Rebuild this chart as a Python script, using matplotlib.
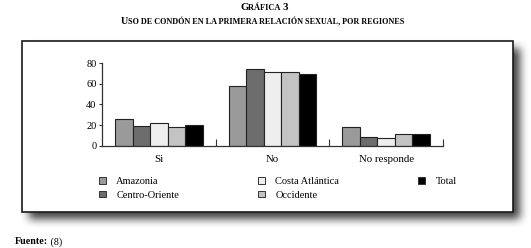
import matplotlib
matplotlib.use("Agg")
import matplotlib.pyplot as plt
from matplotlib.patches import Rectangle, Patch
import numpy as np

W, H = 531, 248

categories = ["Si", "No", "No responde"]
regions = ["Amazonia", "Centro-Oriente", "Costa Atlántica", "Occidente", "Total"]
amazonia = [26, 58, 18]
centro_oriente = [19, 74, 8]
costa_atlantica = [22, 72, 7]
occidente = [18, 72, 11]
total = [20, 70, 11]
series = [amazonia, centro_oriente, costa_atlantica, occidente, total]
colors = ["#9a9a9a", "#6d6d6d", "#eeeeee", "#c3c3c3", "#000000"]
yticks = [0, 20, 40, 60, 80]

FONT = "Liberation Serif"
plt.rcParams["font.family"] = FONT


def fx(px):
    return px / W


def fy(py):
    return 1 - py / H


fig = plt.figure(figsize=(W / 100, H / 100), dpi=100, facecolor="white")
renderer = fig.canvas.get_renderer()

# blurred drop shadow behind the frame
box = (22, 41, 513, 212)
off = 8
mask = np.zeros((H, W))
mask[box[1] + off:box[3] + off, box[0] + off:box[2] + off] = 1.0
k = 5
for _ in range(2):
    c = np.cumsum(np.pad(mask, ((0, 0), (k, k)), mode="edge"), axis=1)
    mask = (c[:, 2 * k:] - c[:, :-2 * k])[:, :W] / (2 * k)
    c = np.cumsum(np.pad(mask, ((k, k), (0, 0)), mode="edge"), axis=0)
    mask = (c[2 * k:, :] - c[:-2 * k, :])[:H, :] / (2 * k)
rgba = np.zeros((H, W, 4))
rgba[..., :3] = 0.25
rgba[..., 3] = np.clip(mask, 0, 1)
fig.figimage(rgba, xo=0, yo=0, origin="upper", zorder=-3)

fig.patches.append(Rectangle((fx(box[0]), fy(box[3])), fx(box[2] - box[0]), (box[3] - box[1]) / H,
                             transform=fig.transFigure, facecolor="white", edgecolor="#1a1a1a",
                             linewidth=1.2, zorder=-2))

# chart
ax = fig.add_axes([fx(102), fy(145.6), fx(443 - 102), (145.6 - 63.3) / H])
ax.patch.set_alpha(0)
x = np.arange(len(categories))
bw = 0.154
for i, (vals, col, name) in enumerate(zip(series, colors, regions)):
    ax.bar(x + (i - 2) * bw, vals, width=bw, color=col, edgecolor="#222222", linewidth=0.8, label=name)

ax.set_xlim(-0.5, 2.5)
ax.set_ylim(0, 80)
ax.set_yticks(yticks)
ax.set_xticks(x, labels=categories)
ax.set_xticks([0.5, 1.5, 2.5], minor=True)
for s in ("top", "right"):
    ax.spines[s].set_visible(False)
for s in ("left", "bottom"):
    ax.spines[s].set_color("#333333")
    ax.spines[s].set_linewidth(0.9)
ax.tick_params(axis="y", direction="out", length=2.5, width=0.8, pad=1.5, labelsize=7.5, color="#333333")
ax.tick_params(axis="x", which="major", length=0, pad=7, labelsize=7.8)
ax.tick_params(axis="x", which="minor", direction="in", length=5, width=0.8, color="#333333")

handles = [Patch(facecolor=c, edgecolor="#333333", linewidth=0.7) for c in colors]
fig.legend(handles, regions, loc="upper left", bbox_to_anchor=(fx(99), fy(177)), ncol=3,
           frameon=False, fontsize=7.5, borderpad=0, handlelength=0.65, handleheight=0.6,
           handletextpad=1.0, columnspacing=7.6, labelspacing=0.45, borderaxespad=0)


def advance(txt, size, weight):
    # width including trailing spaces: measure against a bar sentinel
    t = fig.text(0, 0, txt + "|", fontsize=size, fontweight=weight)
    s = fig.text(0, 0, "|", fontsize=size, fontweight=weight)
    w = t.get_window_extent(renderer).width - s.get_window_extent(renderer).width
    t.remove()
    s.remove()
    return w


def run_text(x0, y0, pieces, center=False):
    """pieces: list of (text, size, weight); drawn side by side on one baseline."""
    arts = []
    xpos = x0
    for txt, size, weight in pieces:
        t = fig.text(fx(xpos), fy(y0), txt, fontsize=size, fontweight=weight, ha="left", va="baseline")
        arts.append((t, xpos))
        xpos += advance(txt, size, weight)
    if center:
        shift = (xpos - x0) / 2
        for t, xp in arts:
            t.set_x(fx(xp - shift))


def small_caps(s, big, small):
    pieces = []
    for ch in s:
        size = big if (ch.isupper() or ch.isdigit()) else small
        if pieces and pieces[-1][1] == size:
            pieces[-1][0] += ch.upper()
        else:
            pieces.append([ch.upper(), size])
    return [(p[0], p[1], "bold") for p in pieces]


run_text(264, 10.5, small_caps("Gráfica 3", 7.8, 6.0), center=True)
run_text(262.5, 24.5, small_caps("Uso de condón en la primera relación sexual, por regiones", 7.2, 5.85), center=True)
run_text(15, 244.3, [("Fuente:", 7.2, "bold"), (" (8)", 7.2, "normal")])

fig.savefig("out.png", dpi=100, facecolor="white")
